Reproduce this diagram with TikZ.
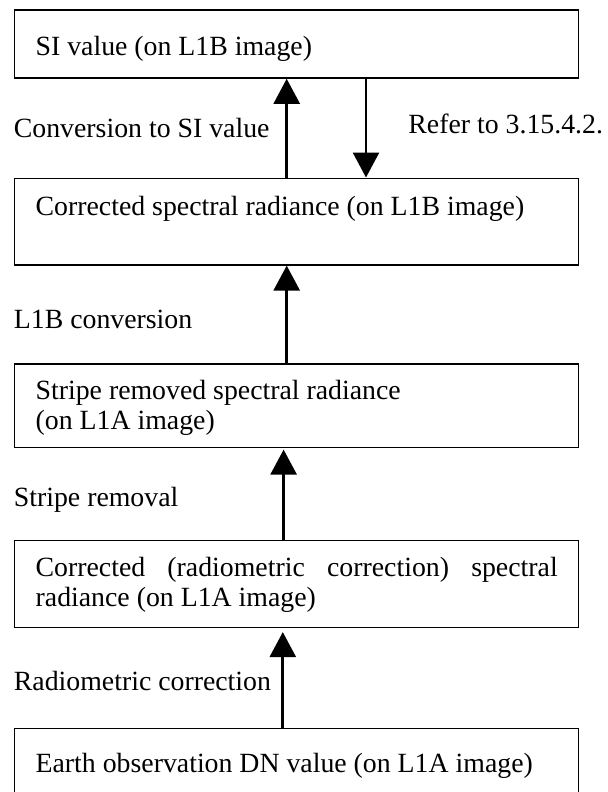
\documentclass[tikz,border=0pt]{standalone}
\usepackage{fontspec}
\setmainfont{Liberation Serif}
\usetikzlibrary{arrows.meta}
\hyphenpenalty=10000
\exhyphenpenalty=10000
\tolerance=10000
\begin{document}
\begin{tikzpicture}[x=0.5pt,y=-0.5pt,
  box/.style={draw, line width=0.65pt, anchor=north west, inner xsep=10.5pt, inner ysep=0pt,
              font=\fontsize{13.9}{15}\selectfont},
  lbl/.style={anchor=base west, inner sep=0pt, font=\fontsize{13.9}{15}\selectfont},
  arr/.style={line width=1.35pt, -{Triangle[width=13pt,length=12.5pt]}}]
\fill[white] (0,0) rectangle (607,792);
\useasboundingbox (0,0) rectangle (607,792);

\node[box, text height=22.85pt, text depth=11.25pt] (si) at (14,9.3)
  {\parbox[t]{261pt}{SI value (on L1B image)}};
\node[box, text height=18.75pt, text depth=24.65pt] (l1b) at (14,177.5)
  {\parbox[t]{261pt}{Corrected spectral radiance (on L1B image)}};
\node[box, text height=18pt, text depth=23.7pt] (stripe) at (14,363.3)
  {\parbox[t]{261pt}{Stripe removed spectral radiance\\(on L1A image)}};
\node[box, text height=17.85pt, text depth=25.55pt] (radio) at (14,540)
  {\parbox[t]{261pt}{Corrected (radiometric correction) spectral radiance (on L1A image)}};
\node[box, text height=22pt, text depth=12.1pt] (dn) at (14,727.7)
  {\parbox[t]{261pt}{Earth observation DN value (on L1A image)}};

\coordinate (xa) at (286.7,0);
\coordinate (xb) at (366,0);
\coordinate (xc) at (283.6,0);
\coordinate (xd) at (282.8,0);

\draw[arr] (l1b.north -| xa) -- (si.south -| xa);
\draw[arr] (si.south -| xb) -- (l1b.north -| xb);
\draw[arr] (stripe.north -| xa) -- (l1b.south -| xa);
\draw[arr, shorten >=0.8pt] (radio.north -| xc) -- (stripe.south -| xc);
\draw[arr, shorten >=2pt] (dn.north -| xd) -- (radio.south -| xd);

\node[lbl] (t1) at (13.5,137) {Conversion to SI value};
\node[lbl] (t2) at (408,133.3) {Refer to 3.15.4.2.};
\node[lbl] (t3) at (13.5,328.3) {L1B conversion};
\node[lbl] (t4) at (13.5,506) {Stripe removal};
\node[lbl] (t5) at (13.5,690) {Radiometric correction};
\end{tikzpicture}
\end{document}
